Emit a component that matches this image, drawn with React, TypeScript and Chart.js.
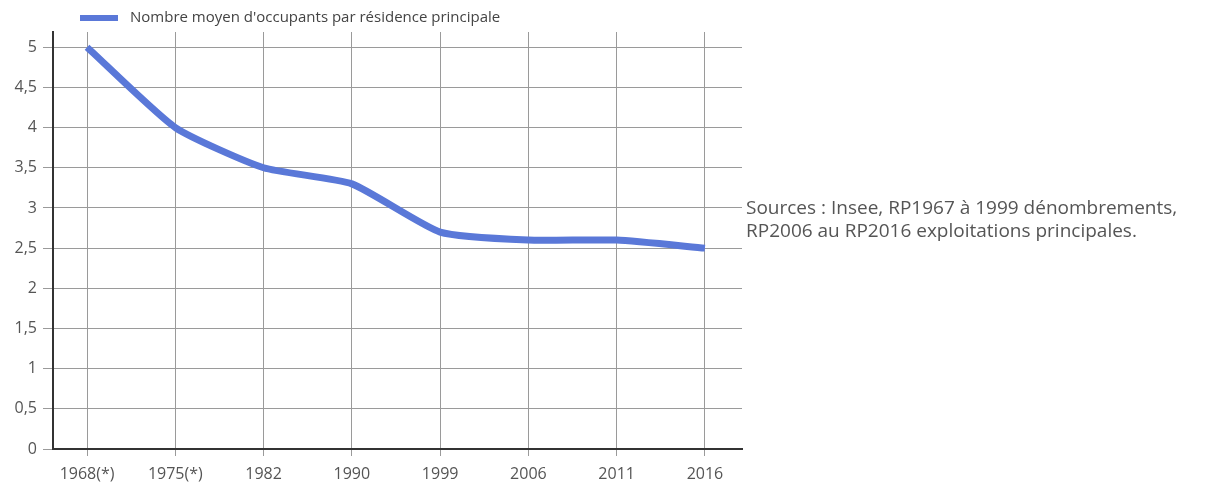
import React, { useEffect, useRef } from "react";
import { Chart, registerables } from "chart.js";

Chart.register(...registerables);

const YEARS = ["1968(*)", "1975(*)", "1982", "1990", "1999", "2006", "2011", "2016"];
const OCCUPANTS = [5, 4, 3.5, 3.3, 2.7, 2.6, 2.6, 2.5];
const Y_TICKS = [0, 0.5, 1, 1.5, 2, 2.5, 3, 3.5, 4, 4.5, 5];
const SERIES_LABEL = "Nombre moyen d'occupants par résidence principale";
const NOTE_LINES = [
  "Sources : Insee, RP1967 à 1999 dénombrements,",
  "RP2006 au RP2016 exploitations principales.",
];

const LINE_COLOR = "#5a78d8";
const FONT = '"Open Sans", "DejaVu Sans", sans-serif';

const legendPlugin = {
  id: "topLegend",
  afterDraw(chart: any) {
    const ctx = chart.ctx;
    ctx.save();
    ctx.fillStyle = LINE_COLOR;
    ctx.fillRect(80, 15, 38, 6);
    ctx.font = `15px ${FONT}`;
    ctx.fillStyle = "#444";
    ctx.textBaseline = "middle";
    ctx.textAlign = "left";
    ctx.fillText(SERIES_LABEL, 130, 18);
    ctx.restore();
  },
};

export default function App() {
  const ref = useRef<HTMLCanvasElement | null>(null);

  useEffect(() => {
    if (!ref.current) return;
    const chart = new Chart(ref.current, {
      type: "line",
      data: {
        datasets: [
          {
            label: SERIES_LABEL,
            data: OCCUPANTS.map((v, i) => ({ x: i, y: v })),
            borderColor: LINE_COLOR,
            backgroundColor: LINE_COLOR,
            borderWidth: 7,
            tension: 0.18,
            pointRadius: 0,
            pointHoverRadius: 0,
            fill: false,
          },
        ],
      },
      options: {
        animation: false,
        responsive: false,
        maintainAspectRatio: false,
        layout: { padding: { top: 32, right: 485, left: 0, bottom: 0 } },
        plugins: {
          legend: { display: false },
          tooltip: { enabled: false },
        },
        scales: {
          x: {
            type: "linear",
            min: -0.386,
            max: 7.42,
            bounds: "data",
            afterFit: (s: any) => {
              s.height = 38;
            },
            afterBuildTicks: (s: any) => {
              s.ticks = YEARS.map((_, i) => ({ value: i }));
            },
            ticks: {
              autoSkip: false,
              maxRotation: 0,
              padding: 9,
              color: "#555",
              font: { family: FONT, size: 16 },
              callback: (v: any) => YEARS[Math.round(v)] ?? "",
            },
            grid: { color: "#9a9a9a", lineWidth: 1, tickLength: 7, drawTicks: true },
            border: { color: "#333", width: 2 },
          },
          y: {
            type: "linear",
            min: 0,
            max: 5.19,
            bounds: "data",
            afterFit: (s: any) => {
              s.width = 53;
            },
            afterBuildTicks: (s: any) => {
              s.ticks = Y_TICKS.map((v) => ({ value: v }));
            },
            ticks: {
              padding: 6,
              color: "#555",
              font: { family: FONT, size: 16 },
              callback: (v: any) => String(v).replace(".", ","),
            },
            grid: { color: "#9a9a9a", lineWidth: 1, tickLength: 10, drawTicks: true },
            border: { color: "#333", width: 2 },
          },
        },
      },
      plugins: [legendPlugin],
    });
    return () => chart.destroy();
  }, []);

  return (
    <div style={{ position: "absolute", left: 0, top: 0, width: 1227, height: 487, background: "#fff" }}>
      <canvas ref={ref} width={1227} height={487} style={{ position: "absolute", left: 0, top: 0 }} />
      <div
        style={{
          position: "absolute",
          left: 746,
          top: 196,
          fontFamily: FONT,
          fontSize: 19,
          lineHeight: "23px",
          color: "#555",
          whiteSpace: "nowrap",
        }}
      >
        {NOTE_LINES.map((l) => (
          <div key={l}>{l}</div>
        ))}
      </div>
    </div>
  );
}
